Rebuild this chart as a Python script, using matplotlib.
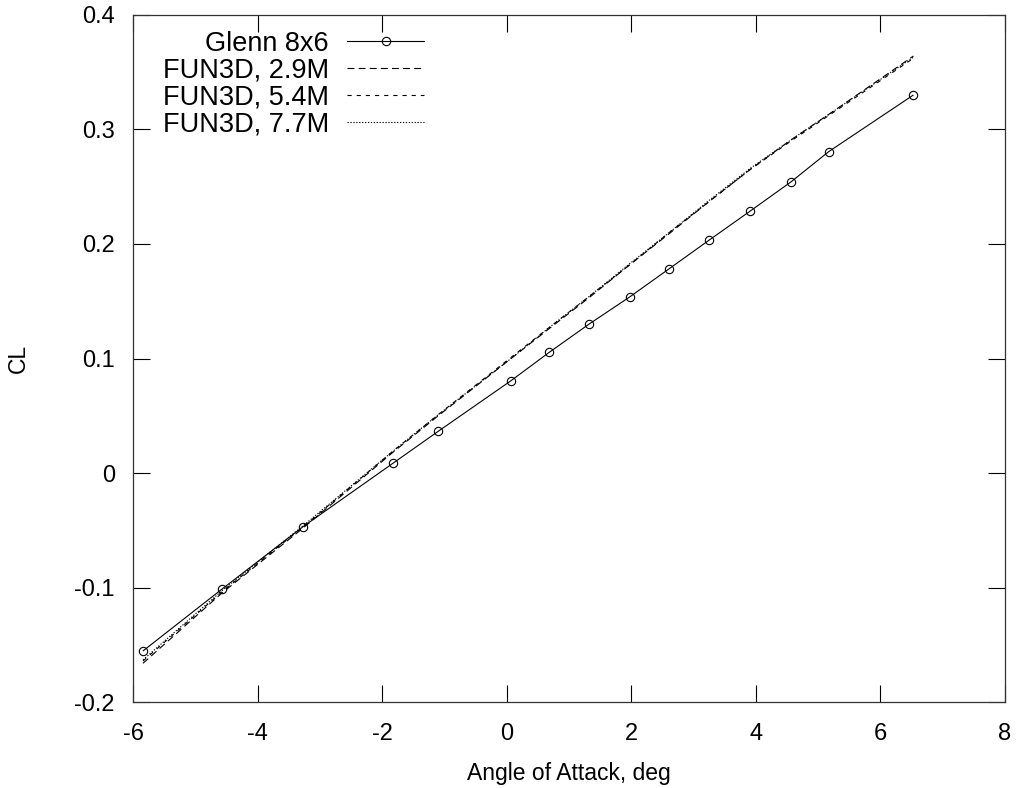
import matplotlib
matplotlib.use("Agg")
import matplotlib.pyplot as plt
from matplotlib.ticker import FuncFormatter

plt.rcParams['font.family'] = ['Liberation Sans', 'DejaVu Sans']
plt.rcParams['lines.scale_dashes'] = False

# wind tunnel data, Glenn 8x6
alpha_exp = [-5.835, -4.576, -3.271, -1.826, -1.099, 0.068, 0.683, 1.316, 1.979,
             2.610, 3.252, 3.910, 4.568, 5.169, 6.522]
cl_exp = [-0.155, -0.1014, -0.0468, 0.0086, 0.0365, 0.0806, 0.1054, 0.1298, 0.1539,
          0.1784, 0.2034, 0.2287, 0.2543, 0.2805, 0.3297]

# FUN3D runs on three grids
alpha_cfd = [-5.84, -4.58, -3.27, -1.83, -1.10, 0.07, 0.68, 1.32, 1.98,
             2.61, 3.25, 3.91, 4.57, 5.17, 6.53]
cl_29 = [-0.166, -0.105, -0.048, 0.018, 0.050, 0.100, 0.126, 0.153, 0.182,
         0.209, 0.237, 0.265, 0.291, 0.313, 0.364]
cl_54 = [-0.164, -0.104, -0.047, 0.019, 0.051, 0.101, 0.127, 0.154, 0.182,
         0.210, 0.237, 0.265, 0.290, 0.312, 0.362]
cl_77 = [-0.163, -0.103, -0.046, 0.019, 0.051, 0.100, 0.127, 0.154, 0.183,
         0.210, 0.238, 0.266, 0.291, 0.313, 0.363]

fig = plt.figure(figsize=(10.17, 7.88), dpi=100)
ax = fig.add_axes([0.1308, 0.1088, 0.8574, 0.8725])

ax.plot(alpha_exp, cl_exp, color='black', lw=0.8, marker='o', markersize=6,
        markerfacecolor='none', markeredgewidth=0.8, label='Glenn 8x6')
ax.plot(alpha_cfd, cl_29, color='black', lw=0.8, dashes=(5, 3), label='FUN3D, 2.9M')
ax.plot(alpha_cfd, cl_54, color='black', lw=0.8, dashes=(3, 3.6), label='FUN3D, 5.4M')
ax.plot(alpha_cfd, cl_77, color='black', lw=0.8, dashes=(0.9, 1.2), label='FUN3D, 7.7M')

ax.set_xlim(-6, 8)
ax.set_ylim(-0.2, 0.4)
ax.set_xticks(range(-6, 9, 2))
ax.set_yticks([-0.2, -0.1, 0, 0.1, 0.2, 0.3, 0.4])
ax.yaxis.set_major_formatter(FuncFormatter(lambda v, p: '0' if abs(v) < 1e-9 else f'{v:.1f}'))
ax.xaxis.set_major_formatter(FuncFormatter(lambda v, p: f'{int(round(v))}'))

ax.tick_params(direction='in', length=12, width=0.8, top=True, right=True,
               labelsize=17, colors='black')
ax.tick_params(axis='x', pad=15)
ax.tick_params(axis='y', pad=13)
for s in ax.spines.values():
    s.set_linewidth(0.9)
    s.set_color('#333333')

ax.set_xlabel('Angle of Attack, deg', fontsize=16.5)
ax.set_ylabel('CL', fontsize=16.5)
ax.xaxis.set_label_coords(0.5, -0.087)
ax.yaxis.set_label_coords(-0.118, 0.5)

ax.legend(loc='upper left', bbox_to_anchor=(0.034, 0.977), frameon=False,
          markerfirst=False, fontsize=19.5, handlelength=2.85, handletextpad=0.67,
          labelspacing=0.04, borderaxespad=0, borderpad=0)

fig.savefig('out.png', dpi=100)
